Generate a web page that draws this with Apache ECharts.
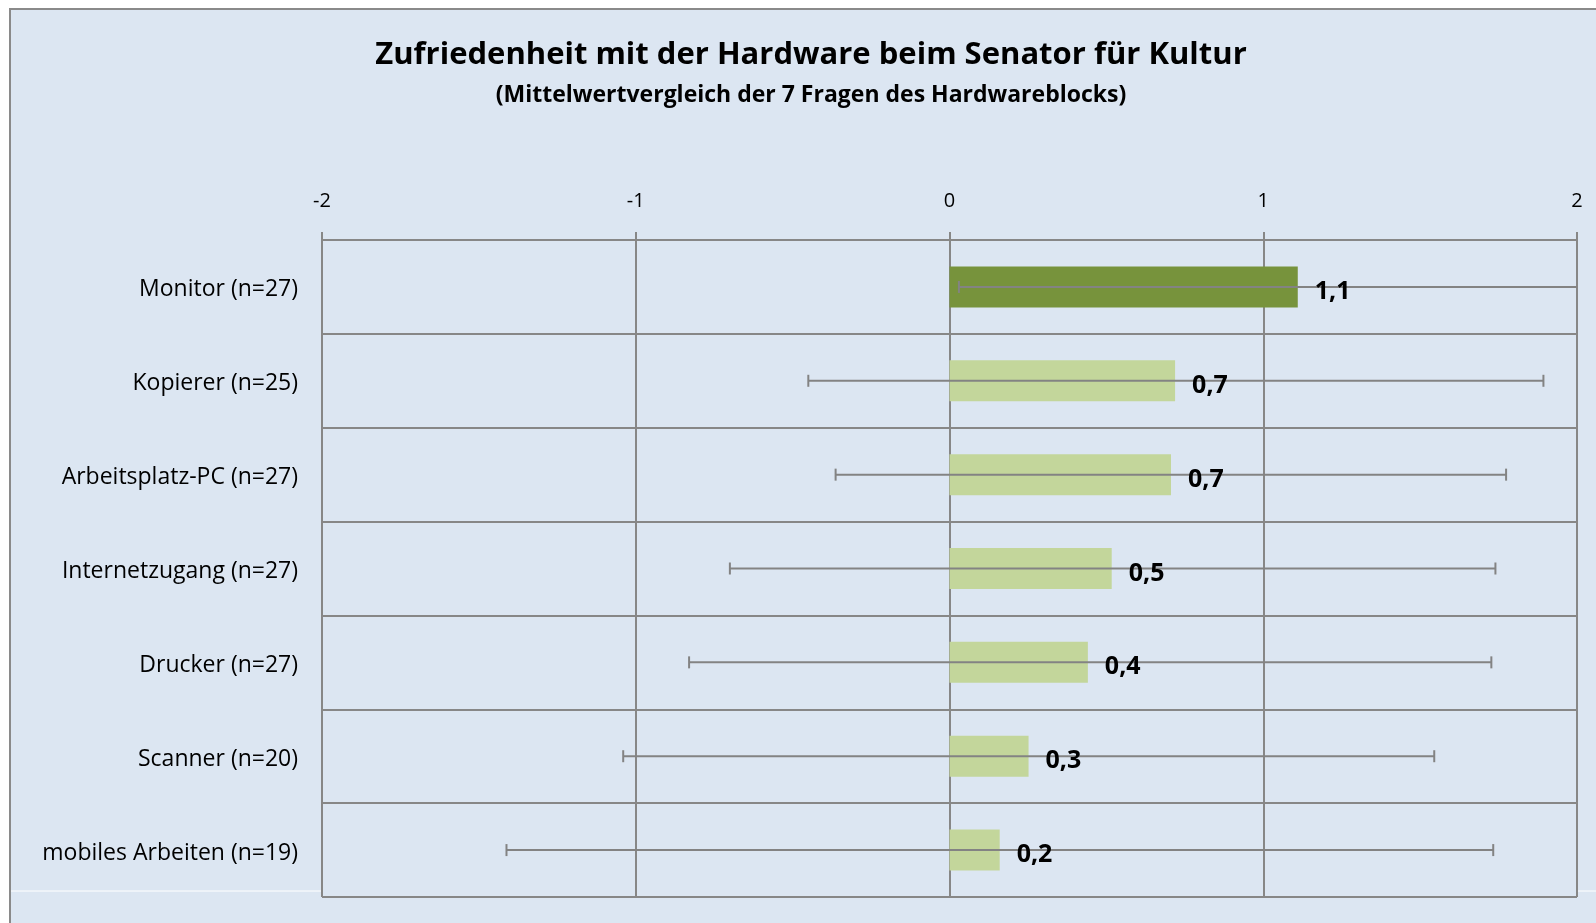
<!DOCTYPE html>
<html>
<head>
<meta charset="utf-8">
<script src="https://cdn.jsdelivr.net/npm/echarts@6/dist/echarts.min.js"></script>
<style>
html,body{margin:0;padding:0;background:#ffffff;}
#chart{width:1596px;height:923px;}
</style>
</head>
<body>
<div id="chart"></div>
<script>
const categories = ['Monitor (n=27)', 'Kopierer (n=25)', 'Arbeitsplatz-PC (n=27)', 'Internetzugang (n=27)', 'Drucker (n=27)', 'Scanner (n=20)', 'mobiles Arbeiten (n=19)'];
const means = [1.11, 0.719, 0.706, 0.517, 0.441, 0.252, 0.16];
const errLow = [0.03, -0.45, -0.363, -0.70, -0.83, -1.04, -1.412];
const errHigh = [2.19, 1.893, 1.774, 1.74, 1.727, 1.545, 1.733];
const xTicks = [-2, -1, 0, 1, 2];

const FONT = '"Open Sans"';
const GRID_COLOR = '#878787';

const chart = echarts.init(document.getElementById('chart'));
chart.setOption({
  animation: false,
  backgroundColor: '#ffffff',
  graphic: [
    { type: 'rect', z: -10, silent: true, shape: { x: 10, y: 9, width: 1600, height: 930 },
      style: { fill: '#dce6f2', stroke: '#8a8a8a', lineWidth: 2 } },
    { type: 'line', z: -9, silent: true, shape: { x1: 11, y1: 891, x2: 322, y2: 891 },
      style: { stroke: '#ffffff', lineWidth: 1 } },
    { type: 'line', z: -9, silent: true, shape: { x1: 1578, y1: 891, x2: 1596, y2: 891 },
      style: { stroke: '#ffffff', lineWidth: 1 } }
  ],
  title: [
    { text: 'Zufriedenheit mit der Hardware beim Senator für Kultur', left: 806, top: 32, textAlign: 'center',
      textStyle: { fontFamily: FONT, fontWeight: 'bold', fontSize: 31, lineHeight: 36, color: '#000000' } },
    { text: '(Mittelwertvergleich der 7 Fragen des Hardwareblocks)', left: 806, top: 76, textAlign: 'center',
      textStyle: { fontFamily: FONT, fontWeight: 'bold', fontSize: 23, lineHeight: 28, color: '#000000' } }
  ],
  grid: { left: 322, right: 19, top: 240, bottom: 26, containLabel: false },
  xAxis: {
    type: 'value', position: 'top', min: xTicks[0], max: xTicks[xTicks.length - 1], interval: 1,
    axisLine: { show: true, lineStyle: { color: GRID_COLOR, width: 2 } },
    axisTick: { show: true, length: 8, lineStyle: { color: GRID_COLOR, width: 2 } },
    axisLabel: { margin: 29, fontFamily: FONT, fontSize: 20, color: '#000000',
      formatter: v => String(v) },
    splitLine: { show: true, lineStyle: { color: GRID_COLOR, width: 2 } }
  },
  yAxis: {
    type: 'category', data: categories, inverse: true,
    axisLine: { show: true, lineStyle: { color: GRID_COLOR, width: 2 } },
    axisTick: { show: false },
    axisLabel: { margin: 24, fontFamily: FONT, fontSize: 23, color: '#000000',
      formatter: v => '{l|' + v + '}',
      rich: { l: { fontFamily: FONT, fontSize: 23, color: '#000000', padding: [6, 0, 0, 0] } } },
    splitLine: { show: true, showMinLine: true, showMaxLine: true, lineStyle: { color: GRID_COLOR, width: 2 } }
  },
  series: [
    {
      type: 'bar', data: means, barWidth: 41, z: 2,
      itemStyle: { color: p => p.dataIndex === 0 ? '#77933c' : '#c3d69b' }
    },
    {
      type: 'custom', z: 3, clip: true,
      data: categories.map((c, i) => [i, errLow[i], errHigh[i]]),
      renderItem: (params, api) => {
        const i = api.value(0);
        const lo = api.coord([api.value(1), i]);
        const hi = api.coord([api.value(2), i]);
        const cs = params.coordSys;
        const xMax = cs.x + cs.width;
        const cap = 6;
        const style = { stroke: '#838383', lineWidth: 2 };
        const children = [
          { type: 'line', shape: { x1: lo[0], y1: lo[1], x2: Math.min(hi[0], xMax), y2: hi[1] }, style },
          { type: 'line', shape: { x1: lo[0], y1: lo[1] - cap, x2: lo[0], y2: lo[1] + cap }, style }
        ];
        if (hi[0] <= xMax) {
          children.push({ type: 'line', shape: { x1: hi[0], y1: hi[1] - cap, x2: hi[0], y2: hi[1] + cap }, style });
        }
        return { type: 'group', children };
      }
    },
    {
      type: 'bar', data: means, barWidth: 41, barGap: '-100%', z: 5,
      itemStyle: { color: 'rgba(0,0,0,0)' },
      label: { show: true, position: 'right', distance: 17, offset: [0, 5],
        fontFamily: FONT, fontWeight: 'bold', fontSize: 25, color: '#000000',
        formatter: p => p.value.toFixed(1).replace('.', ',') }
    }
  ]
});
</script>
</body>
</html>
